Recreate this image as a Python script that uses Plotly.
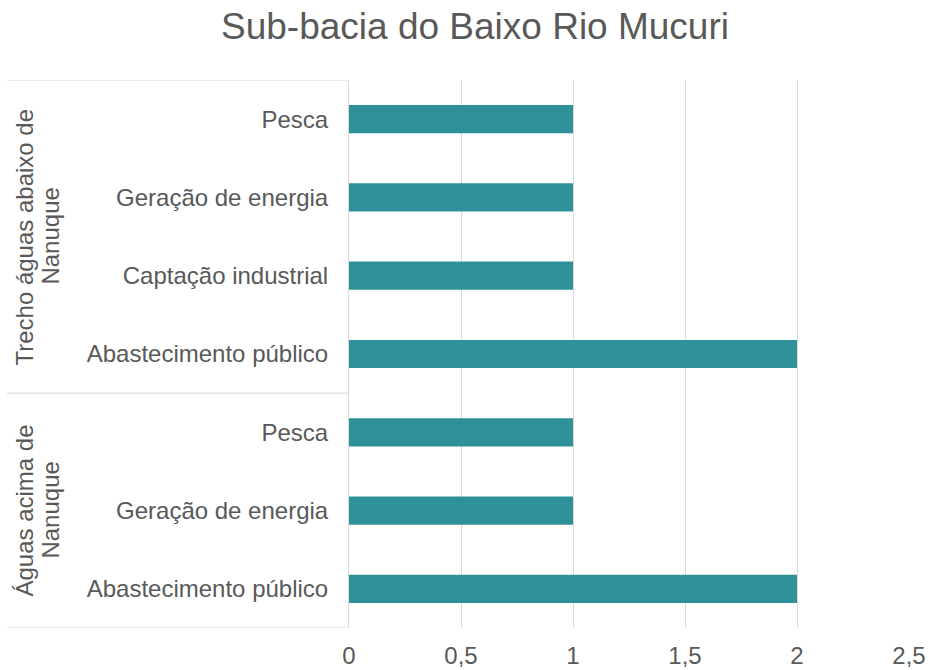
import plotly.graph_objects as go

# Usos da água por trecho (contagem de registros)
groups = ["Águas acima de Nanuque", "Trecho águas abaixo de Nanuque"]
group_lines = [["Águas acima de", "Nanuque"], ["Trecho águas abaixo de", "Nanuque"]]
uses_acima = ["Abastecimento público", "Geração de energia", "Pesca"]
values_acima = [2, 1, 1]
uses_abaixo = ["Abastecimento público", "Captação industrial", "Geração de energia", "Pesca"]
values_abaixo = [2, 1, 1, 1]
x_ticks = [0, 0.5, 1, 1.5, 2, 2.5]
x_tick_labels = ["0", "0,5", "1", "1,5", "2", "2,5"]

FONT = "Liberation Sans, Arial, sans-serif"
TEXT = "#595959"
GRID = "#d9d9d9"
BAR = "#2e9199"
FS = 24

keys = [f"{groups[0]}|{u}" for u in uses_acima] + [f"{groups[1]}|{u}" for u in uses_abaixo]
labels = uses_acima + uses_abaixo
values = values_acima + values_abaixo

fig = go.Figure(go.Bar(
    x=values, y=keys, orientation="h",
    marker=dict(color=BAR, line=dict(width=0)),
    width=0.36,
))

fig.update_layout(
    width=931, height=670,
    margin=dict(l=349, r=22, t=80, b=42),
    paper_bgcolor="white", plot_bgcolor="white",
    showlegend=False,
    font=dict(family=FONT, color=TEXT, size=FS),
    title=dict(
        text="Sub-bacia do Baixo Rio Mucuri",
        font=dict(family=FONT, size=37, color=TEXT),
        x=475 / 931, xref="container", xanchor="center",
        y=1 - 26 / 670, yref="container", yanchor="middle",
    ),
)

fig.update_xaxes(
    range=[0, 2.5], tickvals=x_ticks, ticktext=x_tick_labels,
    showgrid=True, gridcolor=GRID, gridwidth=1, zeroline=False,
    ticks="outside", ticklen=6, tickcolor="rgba(0,0,0,0)",
    tickfont=dict(size=FS, color=TEXT), showline=False,
    automargin=False,
)
fig.update_yaxes(
    type="category", categoryorder="array", categoryarray=keys,
    tickvals=keys, ticktext=labels, range=[-0.5, len(keys) - 0.5],
    showgrid=False, zeroline=False,
    showline=True, linecolor=GRID, linewidth=1,
    ticks="outside", ticklen=15, tickcolor="rgba(0,0,0,0)",
    tickfont=dict(size=FS, color=TEXT),
    automargin=False,
)

# Divisórias horizontais dos grupos no eixo de categorias
left = (7 - 349) / 560
n_acima = len(uses_acima)
for yb in [-0.5, n_acima - 0.5, len(keys) - 0.5]:
    fig.add_shape(type="line", xref="paper", yref="y",
                  x0=left, x1=0, y0=yb, y1=yb,
                  line=dict(color=GRID, width=1))

# Rótulos dos grupos (texto vertical, duas linhas)
centers = [(n_acima - 1) / 2, n_acima + (len(uses_abaixo) - 1) / 2]
line_x = [(25 - 349) / 560, (51 - 349) / 560]
for c, lines in zip(centers, group_lines):
    for lx, txt in zip(line_x, lines):
        fig.add_annotation(
            text=txt, xref="paper", yref="y", x=lx, y=c,
            textangle=-90, showarrow=False,
            xanchor="center", yanchor="middle",
            font=dict(family=FONT, size=FS, color=TEXT),
        )

fig.write_html("out.html")
